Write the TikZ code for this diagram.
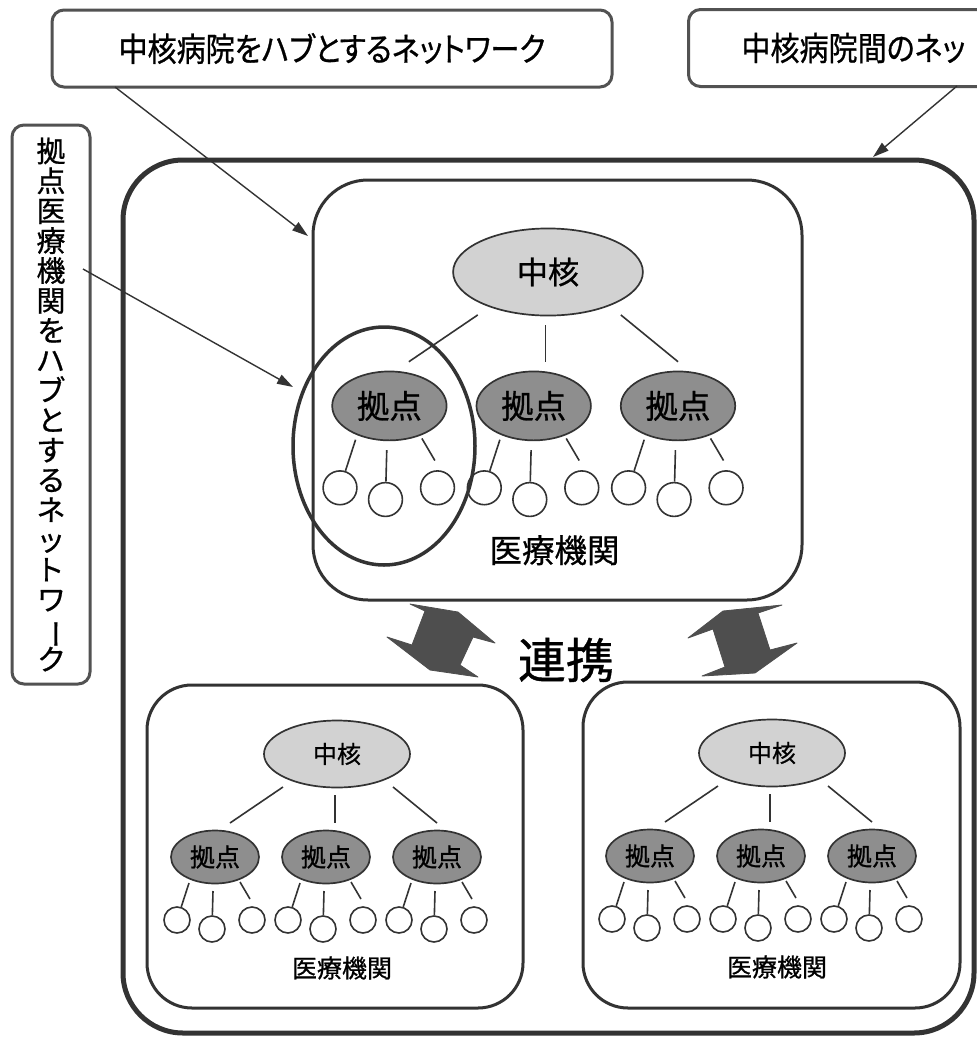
\documentclass[tikz,border=0pt]{standalone}
\usepackage{fontspec}
\usepackage{graphicx}
\setmainfont{Noto Sans CJK JP}[RawFeature=+palt, BoldFont=Noto Sans CJK JP, BoldFeatures={FakeBold=0.8}]
\newfontfamily\narrowjp{Noto Sans CJK JP}[RawFeature=+palt, FakeStretch=0.88, BoldFont=Noto Sans CJK JP, BoldFeatures={FakeBold=0.8}]
\usetikzlibrary{arrows.meta,shapes.geometric,calc}
\newcommand\tightlines{\lineskiplimit=-20pt\relax}
\definecolor{ink}{HTML}{333333}
\definecolor{corefill}{HTML}{D2D2D2}
\definecolor{basefill}{HTML}{8E8E8E}
\definecolor{arrowfill}{HTML}{4E4E4E}
\tikzset{
 every node/.style={font=\bfseries},
 core/.style={ellipse, draw=ink, line width=1.7pt, fill=corefill, minimum width=146pt, minimum height=67pt, inner sep=0pt, font=\bfseries\fontsize{24}{24}\selectfont},
 hub/.style={ellipse, draw=ink, line width=1.7pt, fill=basefill, minimum width=88pt, minimum height=53pt, inner sep=0pt, font=\bfseries\fontsize{25}{25}\selectfont},
 leaf/.style={circle, draw=ink, line width=1.6pt, fill=white, minimum size=26pt, inner sep=0pt},
 link/.style={draw=ink, line width=1.6pt},
 panel/.style={draw=ink, line width=3pt, rounded corners=45pt, fill=white, inner sep=0pt},
 tag/.style={draw=ink!85, line width=3pt, rounded corners=12pt, fill=white, inner sep=0pt},
 pointer/.style={draw=ink, line width=1.4pt, -{Triangle[length=16pt,width=10pt]}},
 shake/.style={fill=arrowfill, draw=arrowfill, line width=0.8pt, line join=round},
}
\newcommand\hubtree[4]{%
 \begin{scope}[shift={(#2,#3)}, scale=#4, transform shape]
  \node[core] (#1c) at (0,0) {中核};
  \coordinate (#1u1) at (-54,33); \coordinate (#1d1) at (-107,69);
  \coordinate (#1u2) at (-2,41);  \coordinate (#1d2) at (-2,69);
  \coordinate (#1u3) at (56,33);  \coordinate (#1d3) at (100,69);
  \draw[link] (#1u1) -- (#1d1);
  \draw[link] (#1u2) -- (#1d2);
  \draw[link] (#1u3) -- (#1d3);
  \foreach \k/\dx in {1/-122,2/-11,3/100}{
    \node[hub] (#1h\k) at (\dx,103) {拠点};
    \node[leaf] (#1h\k a) at ({\dx-38},166) {};
    \node[leaf] (#1h\k b) at ({\dx-3},175) {};
    \node[leaf] (#1h\k c) at ({\dx+37},166) {};
    \coordinate (#1h\k sa) at ({\dx-26},129);
    \coordinate (#1h\k sb) at ({\dx-2},137);
    \coordinate (#1h\k sc) at ({\dx+25},128);
    \coordinate (#1h\k ec) at ({\dx+35},145);
    \draw[link] (#1h\k sa) -- (#1h\k a);
    \draw[link] (#1h\k sb) -- (#1h\k b);
    \draw[link] (#1h\k sc) -- (#1h\k ec);
  }
  \node[font=\bfseries\fontsize{25}{25}\selectfont] (#1t) at (5,214) {医療機関};
 \end{scope}}
\begin{document}
\begin{tikzpicture}[x=1pt,y=-1pt]
\useasboundingbox (0,0) rectangle (977,1037);
\clip (0,0) rectangle (977,1037);
\fill[white] (0,0) rectangle (977,1037);

% frames
\node[panel, line width=5pt, rounded corners=60pt, minimum width=851pt, minimum height=873pt] (net) at (548.5,596.5) {};
\node[panel, rounded corners=55pt, minimum width=489pt, minimum height=420pt] (top) at (557.5,390) {};
\node[panel, minimum width=376pt, minimum height=323pt] (left) at (335,846.5) {};
\node[panel, minimum width=377pt, minimum height=326pt] (right) at (771.5,845) {};

% trees
\hubtree{T}{548}{272}{1.3}
\hubtree{L}{337}{754}{1}
\hubtree{R}{772}{753}{1}

% highlight ring
\node[ellipse, draw=ink, line width=3.5pt, minimum width=182pt, minimum height=238pt, inner sep=0pt] (ring) at (384,446) {};

% cooperation arrows
\fill[shake] (410,604) -- (458,612) -- (495,643) -- (473,637) -- (460,665) -- (478,677) -- (430,670) -- (387,637) -- (412,645) -- (425,611) -- cycle;
\fill[shake] (688,638) -- (723,611) -- (782,605) -- (758,613) -- (770,650) -- (797,643) -- (755,673) -- (702,676) -- (725,667) -- (713,629) -- cycle;
\node[font=\bfseries\fontsize{48}{48}\selectfont] (coop) at (566,660) {連携};

% labels
\node[tag, minimum width=560pt, minimum height=77pt, font=\narrowjp\bfseries\fontsize{33}{33}\selectfont] (lblA) at (332,48.5) {中核病院をハブとするネットワーク};
\node[tag, anchor=north west, inner xsep=53pt, minimum height=77pt, font=\narrowjp\bfseries\fontsize{33}{33}\selectfont] (lblB) at (687,8) {中核病院間のネッ};
\node[tag, minimum width=78pt, minimum height=559pt, align=center, font=\bfseries\fontsize{29}{29.9}\selectfont\tightlines] (lblC) at (51,404.5)
 {拠\\点\\医\\療\\機\\関\\を\\ハ\\ブ\\と\\す\\る\\ネ\\ッ\\ト\\ワ\\\rotatebox[origin=c]{-90}{ー}\\ク};

% pointers
\coordinate (pA) at (115,87);   \coordinate (pAe) at (308,236);
\coordinate (pB) at (957,86);   \coordinate (pBe) at (873,157);
\coordinate (pC) at (83,269);   \coordinate (pCe) at (293,387);
\draw[pointer] (pA) -- (pAe);
\draw[pointer] (pB) -- (pBe);
\draw[pointer] (pC) -- (pCe);
\end{tikzpicture}
\end{document}
